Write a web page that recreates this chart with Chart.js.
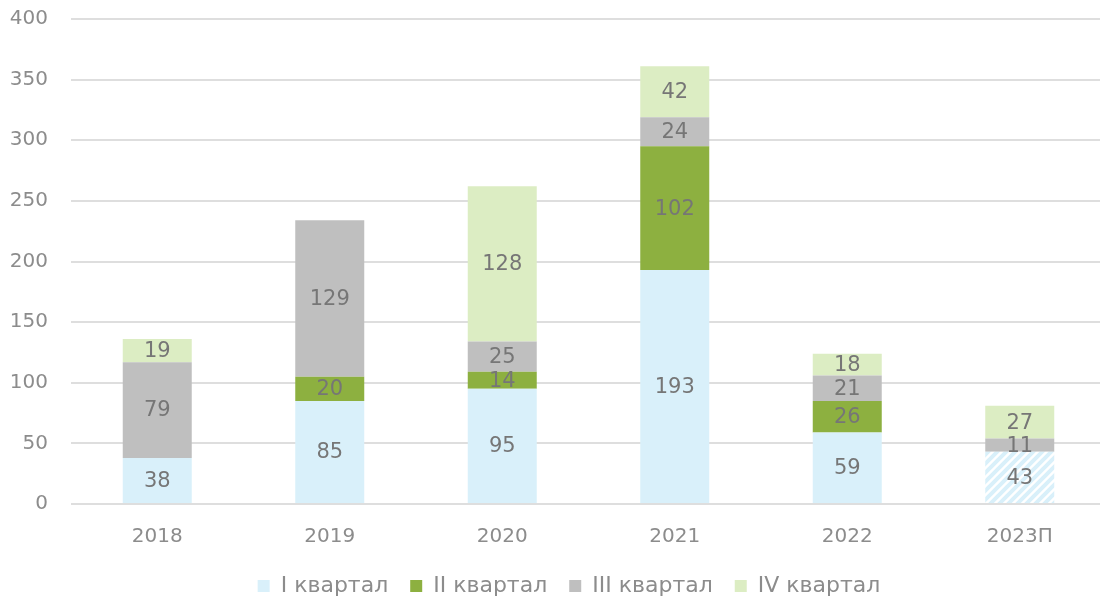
<!DOCTYPE html>
<html>
<head>
<meta charset="utf-8">
<script src="https://cdn.jsdelivr.net/npm/chart.js@4/dist/chart.umd.min.js"></script>
<style>
  html, body { margin: 0; padding: 0; background: #fff; overflow: hidden; }
  #wrap { width: 1106px; height: 601px; }
</style>
</head>
<body>
<div id="wrap"><canvas id="myChart" width="1106" height="601"></canvas></div>
<script>
// data
var years = ['2018', '2019', '2020', '2021', '2022', '2023П'];
var q1 = [38, 85, 95, 193, 59, 43];
var q2 = [0, 20, 14, 102, 26, 0];
var q3 = [79, 129, 25, 24, 21, 11];
var q4 = [19, 0, 128, 42, 18, 27];
var seriesNames = ['I квартал', 'II квартал', 'III квартал', 'IV квартал'];
var yTicks = [0, 50, 100, 150, 200, 250, 300, 350, 400];

var colors = ['#d9f0fa', '#8db040', '#bfbfbf', '#dcedc3'];
var fontFam = '"DejaVu Sans", Tahoma, sans-serif';

// hatch pattern for the forecast bar
function makeHatch(){
  var c = document.createElement('canvas');
  c.width = 9; c.height = 9;
  var g = c.getContext('2d');
  g.fillStyle = '#ffffff';
  g.fillRect(0, 0, 9, 9);
  g.strokeStyle = colors[0];
  g.lineWidth = 4;
  g.beginPath();
  g.moveTo(-2, 11); g.lineTo(11, -2);
  g.moveTo(-11, 11); g.lineTo(2, -2);
  g.moveTo(7, 11); g.lineTo(11, 7);
  g.stroke();
  return document.getElementById('myChart').getContext('2d').createPattern(c, 'repeat');
}
var hatch = makeHatch();
var q1Colors = years.map(function(y){ return y.indexOf('П') >= 0 ? hatch : colors[0]; });

// draws value inside each segment
var valueLabels = {
  id: 'valueLabels',
  afterLayout: function(chart){
    // legend sits a bit right of centre in the original
    chart.legend.left += 16;
    chart.legend.right += 16;
  },
  afterDatasetsDraw: function(chart){
    var ctx = chart.ctx;
    ctx.save();
    ctx.font = '21px ' + fontFam;
    ctx.fillStyle = '#767676';
    ctx.textAlign = 'center';
    ctx.textBaseline = 'middle';
    chart.data.datasets.forEach(function(ds, i){
      var meta = chart.getDatasetMeta(i);
      meta.data.forEach(function(bar, j){
        var v = ds.data[j];
        if (!v) return;
        var yMid = (bar.y + bar.base) / 2;
        ctx.fillText(String(v), bar.x, yMid + 1);
      });
    });
    ctx.restore();
  }
};

var ctx = document.getElementById('myChart').getContext('2d');
var myChart = new Chart(ctx, {
  type: 'bar',
  data: {
    labels: years,
    datasets: [
      { label: seriesNames[0], data: q1, backgroundColor: q1Colors },
      { label: seriesNames[1], data: q2, backgroundColor: colors[1] },
      { label: seriesNames[2], data: q3, backgroundColor: colors[2] },
      { label: seriesNames[3], data: q4, backgroundColor: colors[3] }
    ]
  },
  options: {
    responsive: false,
    animation: false,
    layout: { padding: { top: 19, bottom: -6, left: 0, right: 0 } },
    datasets: { bar: { barPercentage: 0.4, categoryPercentage: 1, borderWidth: 0 } },
    scales: {
      x: {
        stacked: true,
        grid: { display: false, drawTicks: false },
        border: { display: false },
        afterFit: function(scale){ scale.height = 49; },
        ticks: { color: '#8c8c8c', font: { family: fontFam, size: 20 }, padding: 21 }
      },
      y: {
        stacked: true,
        min: 0,
        max: 400,
        afterBuildTicks: function(scale){ scale.ticks = yTicks.map(function(v){ return { value: v }; }); },
        afterFit: function(scale){ scale.width = 71; scale.paddingTop = 0; scale.paddingBottom = 0; },
        grid: { color: '#dedede', lineWidth: 2, drawTicks: false },
        border: { display: false },
        ticks: { color: '#8c8c8c', font: { family: fontFam, size: 20 }, padding: 23 }
      }
    },
    plugins: {
      legend: {
        position: 'bottom',
        labels: {
          color: '#8c8c8c',
          font: { family: fontFam, size: 22 },
          boxWidth: 12,
          boxHeight: 12,
          padding: 22,
          generateLabels: function(chart){
            return chart.data.datasets.map(function(ds, i){
              return { text: ds.label, fillStyle: colors[i], strokeStyle: colors[i], lineWidth: 0, datasetIndex: i, fontColor: '#8c8c8c' };
            });
          }
        }
      },
      tooltip: { enabled: false }
    }
  },
  plugins: [valueLabels]
});
</script>
</body>
</html>
